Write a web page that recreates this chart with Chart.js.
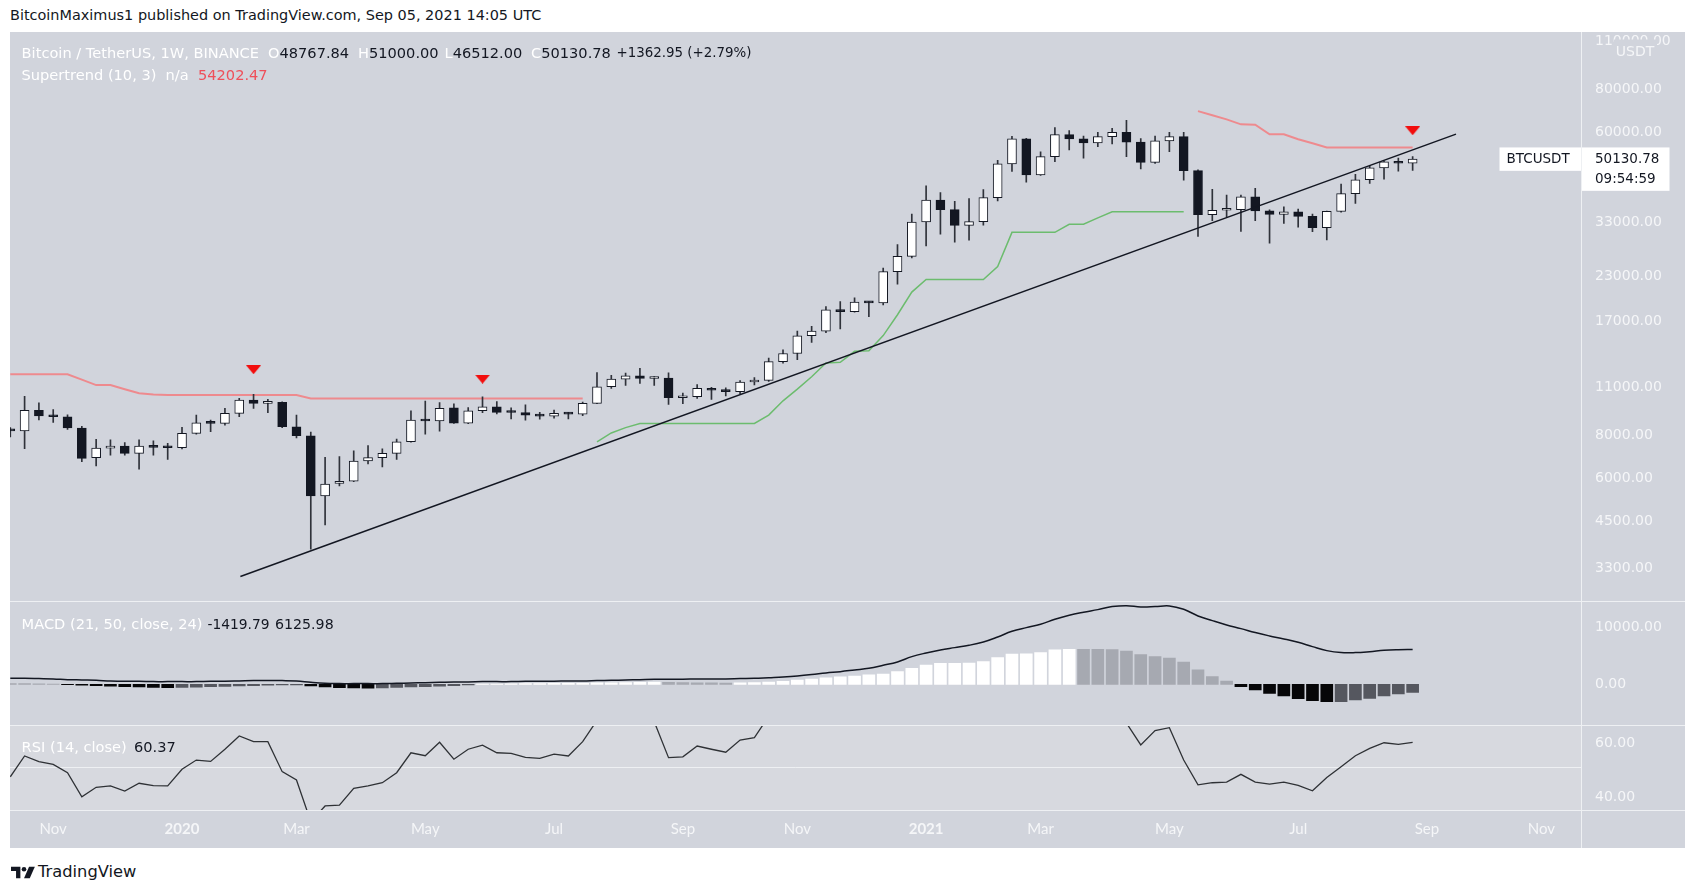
<!DOCTYPE html>
<html>
<head>
<meta charset="utf-8">
<script src="https://cdn.jsdelivr.net/npm/chart.js@4.4.0/dist/chart.umd.min.js"></script>
<style>
html,body{margin:0;padding:0;background:#ffffff;width:1696px;height:888px;overflow:hidden;font-family:"DejaVu Sans",sans-serif;}
#frame{position:absolute;left:10px;top:32px;width:1675px;height:816px;background:#d1d4dc;}
#frame canvas{position:absolute;left:0;}
.t{position:absolute;white-space:nowrap;height:20px;line-height:20px;font-size:14.6px;font-family:"DejaVu Sans",sans-serif;}
.w{color:#ffffff;}
.d{color:#131722;}
.r{color:#ef4f5a;}
.sep{position:absolute;background:#eef0f3;}
</style>
</head>
<body>
<div class="t d" style="left:10px;top:5px;font-size:14.45px;">BitcoinMaximus1 published on TradingView.com, Sep 05, 2021 14:05 UTC</div>
<div id="frame">
  <canvas id="cMain" width="1675" height="569" style="top:0px;width:1675px;height:569px;"></canvas>
  <canvas id="cMacd" width="1675" height="124" style="top:569px;width:1675px;height:124px;"></canvas>
  <canvas id="cRsi" width="1675" height="123" style="top:693px;width:1675px;height:123px;"></canvas>
</div>
<div class="sep" style="left:10px;top:601px;width:1675px;height:1px;"></div>
<div class="sep" style="left:10px;top:725px;width:1675px;height:1px;"></div>
<div class="sep" style="left:10px;top:810px;width:1675px;height:1px;"></div>
<div class="sep" style="left:1581px;top:32px;width:1px;height:816px;"></div>

<div class="t w" style="left:21.6px;top:42.5px;">Bitcoin / TetherUS, 1W, BINANCE</div>
<div class="t" style="left:268px;top:42.5px;"><span class="w">O</span><span class="d">48767.84</span></div>
<div class="t" style="left:358px;top:42.5px;"><span class="w">H</span><span class="d">51000.00</span></div>
<div class="t" style="left:444.5px;top:42.5px;"><span class="w">L</span><span class="d">46512.00</span></div>
<div class="t" style="left:531px;top:42.5px;"><span class="w">C</span><span class="d">50130.78</span></div>
<div class="t d" style="left:616.5px;top:42.5px;font-size:13.4px;">+1362.95 (+2.79%)</div>
<div class="t w" style="left:21.6px;top:65px;">Supertrend (10, 3)</div>
<div class="t w" style="left:165.5px;top:65px;">n/a</div>
<div class="t r" style="left:198px;top:65px;">54202.47</div>
<div class="t w" style="left:21.6px;top:614px;">MACD (21, 50, close, 24)</div>
<div class="t d" style="left:207.5px;top:614px;font-size:13.8px;">-1419.79</div>
<div class="t d" style="left:275px;top:614px;font-size:14.2px;">6125.98</div>
<div class="t w" style="left:21.6px;top:736.5px;">RSI (14, close)</div>
<div class="t d" style="left:134px;top:736.5px;">60.37</div>

<svg style="position:absolute;left:11px;top:866px;" width="26" height="13" viewBox="0 0 36 18">
  <path d="M0 1h13v16H7V7H0z" fill="#131722"/>
  <circle cx="18" cy="4.5" r="3.2" fill="#131722"/>
  <path d="M25 1h8l-7 16h-8z" fill="#131722"/>
</svg>
<div class="t d" style="left:38px;top:862px;font-size:16.3px;">TradingView</div>

<script>
// ---------- DATA (week index 0 = week of 2019-10-14, weekly bars) ----------
const SYMBOL = 'BTCUSDT';
const COUNTDOWN = '09:54:59';
const OPEN = [8275,8220,9430,9080,9030,8380,6880,7330,7430,7080,
  7430,7370,7350,8090,8680,8640,9240,10090,9870,9940,
  8450,7960,5330,5800,5880,6730,6880,7080,7650,8840,
  8780,9590,8650,9400,9650,9300,9290,9130,9070,9240,
  9190,9870,11030,11600,11850,11650,11680,10250,10330,10920,
  10770,10670,11380,11500,13030,13760,15480,15960,18410,18180,
  19360,19270,23720,26250,33000,38150,35830,32260,33090,38800,
  48580,57410,45140,50970,59000,57350,55800,58200,59900,56150,
  49070,56580,58240,46430,34650,35670,35800,39000,35520,34700,
  35280,34240,31780,35400,39850,43700,47300,49250,48767.84];
const HIGH = [8410,10350,9900,9480,9150,8480,7770,7740,7600,7740,
  7690,7570,8420,9140,8840,9550,10210,10490,10140,9980,
  9140,8150,6900,6930,7200,7460,7290,7780,9400,10030,
  9930,9850,9600,10320,9990,9580,9780,9300,9440,9300,
  9960,12110,11900,12080,12470,11800,12090,10580,11180,10990,
  10950,11490,11720,13350,14100,15960,16480,18800,19420,19920,
  19420,24300,28400,34780,41950,40100,37850,38530,40950,49700,
  58350,57530,52640,61840,60600,58400,59950,61500,64850,57500,
  58450,59900,59900,46650,41000,39480,39500,41300,35750,36510,
  35950,34790,35500,42460,45300,47880,49500,50500,51000];
const LOW = [7900,7300,8850,8700,8300,6700,6510,7000,7000,6370,
  7000,6800,7290,8050,8180,8540,9030,9550,9280,8400,
  7850,3740,4400,5700,5860,6600,6470,6800,7630,8040,
  8200,8640,8630,9280,9200,8900,8830,8890,8940,8900,
  9100,9850,10900,11120,11280,11120,9800,9850,10200,10140,
  10370,10530,11170,11420,12900,13200,14800,15800,16190,18110,
  17570,19000,21820,26000,28130,30420,28850,29240,32300,37990,
  46200,43000,44950,49270,53270,50430,54450,55500,51000,47000,
  48700,52650,43600,30000,33270,34160,31000,33300,28650,32710,
  31860,30930,29280,35200,37330,42670,43900,46300,46512];
const CLOSE = [8220,9430,9080,9030,8380,6850,7330,7430,7080,7430,
  7370,7350,8090,8680,8640,9240,10090,9870,9940,8450,
  7960,5330,5770,5880,6730,6880,7080,7650,8840,8780,
  9550,8650,9400,9650,9300,9290,9130,9070,9240,9190,
  9870,11030,11600,11850,11650,11680,10250,10330,10920,10770,
  10670,11380,11500,13030,13760,15480,15960,18410,18180,19360,
  19270,23720,26250,33000,38150,35830,32260,33090,38800,48580,
  57410,45140,50970,59000,57350,55800,58200,59900,56150,49070,
  56580,58240,46430,34650,35670,35800,39000,35520,34700,35280,
  34240,31780,35400,39850,43700,47300,49250,48767.84,50130.78];
// Supertrend (10,3): downtrend (red) and uptrend (green) values, null = not plotted
const ST_DOWN = [11980,11980,11980,11980,11980,11560,11150,11150,10840,10555,
  10480,10435,10435,10435,10435,10435,10435,10435,10435,10435,
  10435,10205,10205,10205,10205,10205,10205,10205,10205,10205,
  10205,10205,10205,10205,10205,10205,10205,10205,10205,10205,
  10205,null,null,null,null,null,null,null,null,null,
  null,null,null,null,null,null,null,null,null,null,
  null,null,null,null,null,null,null,null,null,null,
  null,null,null,null,null,null,null,null,null,null,
  null,null,null,69000,67100,65300,63180,63000,59140,59140,
  57200,55700,54202.47,54202.47,54202.47,54202.47,54202.47,54202.47,54202.47];
const ST_UP = [null,null,null,null,null,null,null,null,null,null,
  null,null,null,null,null,null,null,null,null,null,
  null,null,null,null,null,null,null,null,null,null,
  null,null,null,null,null,null,null,null,null,null,
  null,7647,8110,8400,8640,8640,8640,8640,8640,8640,
  8640,8640,8640,9135,10040,10850,11780,12920,12980,13960,
  14000,15500,17800,20700,22500,22500,22500,22500,22500,24520,
  30800,30800,30800,30800,32500,32500,33920,35300,35300,35300,
  35300,35300,35300,null,null,null,null,null,null,null,
  null,null,null,null,null,null,null,null,null];
const SELL_WEEKS = [17,33,98];
const SELL_PRICES = [12350,11600,60570];
const TREND_WEEKS = [16.08,101.03];
const TREND_PRICES = [3120,59200];
const MACD_LINE = [1050,1050,1000,940,820,760,700,585,530,530,
  470,470,470,470,530,530,585,645,645,645,
  585,350,175,120,120,120,120,175,234,290,
  350,410,410,470,470,470,530,530,530,585,
  585,645,700,760,820,880,880,880,940,940,
  940,1000,1050,1170,1290,1460,1700,1990,2220,2515,
  2810,3335,3920,4855,5500,6025,6435,6845,7430,8310,
  9300,9945,10530,11410,12110,12640,13100,13630,13800,13570,
  13630,13750,13160,11990,11170,10410,9770,9070,8480,7960,
  7370,6610,5910,5560,5560,5730,5970,6080,6125.98];
const MACD_HIST = [130,110,90,60,-60,-150,-250,-340,-420,-480,
  -540,-580,-560,-500,-430,-350,-270,-220,-170,-130,
  -110,-300,-480,-590,-640,-660,-620,-560,-480,-400,
  -320,-220,-110,30,60,90,110,130,150,170,
  190,240,280,320,350,370,340,300,270,240,
  210,240,290,400,540,720,920,1130,1300,1460,
  1640,1810,2220,2810,3390,3690,3700,3710,3980,4680,
  5320,5330,5560,6030,6140,6130,6120,6110,5850,5210,
  4860,4620,3920,2520,1350,585,-410,-990,-1580,-2050,
  -2520,-2870,-3040,-3030,-2750,-2460,-2050,-1700,-1419.79];
const RSI = [47.6,55.3,53.2,52.2,49.1,40.2,43.7,44.2,42.3,45.2,
  44.3,44.2,50.4,53.8,53.3,57.8,62.7,60.6,60.6,49.5,
  46.4,31.0,36.8,37.1,43.3,44.2,45.4,49.1,56.5,55.4,
  60.4,54.1,57.8,59.3,56.5,56.3,54.8,54.4,56.0,55.3,
  60.6,68.5,74,75,73,68,54.7,55.0,59.0,57.8,
  56.7,61.2,62.1,70,72,76,77,81,79,80,
  79,85,87,90,91,86,80,79,82,86,
  88,78,80,83,80,77,78,76,67.5,59.4,
  64.7,65.8,53.8,44.6,45.4,45.6,48.5,45.6,44.9,45.6,
  44.4,42.4,47.3,51.3,55.4,58.1,60.2,59.6,60.37];
const RSI_GUIDE = 51.3;
const PRICE_TICKS = [3300,4500,6000,8000,11000,17000,23000,33000,60000,80000,110000];
const MACD_TICKS = [0,10000];
const RSI_TICKS = [40,60];
const MONTH_TICK_WEEKS = [3,12,20,29,38,47,55,64,72,81,90,99,107];
const MONTH_TICK_LABELS = ['Nov','2020','Mar','May','Jul','Sep','Nov','2021','Mar','May','Jul','Sep','Nov'];

// ---------- view ----------
const X_MIN = -0.02, X_MAX = 109.8;
const AXIS_W = 103.5;
const LABEL_COLOR = '#f5f6f8';
const AXIS_FONT = 'DejaVu Sans';
Chart.defaults.font.family = 'Lato';
Chart.defaults.animation = false;
Chart.defaults.layout.autoPadding = false;

const weeks = OPEN.map((_, i) => i);
const fitY = (s) => { s.width = AXIS_W; s.paddingTop = 0; s.paddingBottom = 0; };
const yTicks = (vals) => (s) => { s.ticks = vals.map(v => ({value: v})); };
const baseOpts = () => ({
  responsive: false, maintainAspectRatio: false, animation: false,
  layout: {padding: 0, autoPadding: false},
  plugins: {legend: {display: false}, tooltip: {enabled: false}},
  events: []
});
const yAxisCommon = {
  position: 'right',
  grid: {display: false, drawTicks: false},
  border: {display: false},
  afterFit: fitY,
  ticks: {color: LABEL_COLOR, font: {size: 14, family: AXIS_FONT}, padding: 13.5, autoSkip: false,
          callback: (v) => Number(v).toFixed(2)}
};
const xHidden = {type: 'linear', min: X_MIN, max: X_MAX, display: false, offset: false,
                 grid: {offset: false}};

function triangleImage() {
  const c = document.createElement('canvas');
  c.width = 15; c.height = 9;
  const g = c.getContext('2d');
  g.fillStyle = '#f20d0d';
  g.beginPath(); g.moveTo(0, 0); g.lineTo(15, 0); g.lineTo(7.5, 9); g.closePath(); g.fill();
  return c;
}

const priceTag = {
  id: 'priceTag',
  afterDraw(chart) {
    const {ctx, chartArea: a, scales: {y}} = chart;
    const last = CLOSE.length - 1;
    const py = y.getPixelForValue(CLOSE[last]);
    ctx.save();
    ctx.fillStyle = '#ffffff';
    ctx.fillRect(a.right - 82, py - 11.7, 82, 23.4);
    ctx.fillRect(a.right, py - 11.7, 88, 43.4);
    ctx.fillStyle = '#131722';
    ctx.font = '13.5px ' + AXIS_FONT;
    ctx.textBaseline = 'middle';
    ctx.textAlign = 'left';
    ctx.fillText(SYMBOL, a.right - 75, py);
    ctx.fillText(CLOSE[last].toFixed(2), a.right + 13.5, py);
    ctx.fillText(COUNTDOWN, a.right + 13.5, py + 20);
    ctx.fillStyle = '#d1d4dc';
    ctx.fillRect(a.right + 32.5, 7.5, 43, 20.5);
    ctx.fillStyle = LABEL_COLOR;
    ctx.font = '14px ' + AXIS_FONT;
    ctx.textAlign = 'center';
    ctx.fillText('USDT', a.right + 53.5, 20);
    ctx.restore();
  }
};

const bodyColors = weeks.map(i => CLOSE[i] >= OPEN[i] ? '#ffffff' : '#131722');

new Chart(document.getElementById('cMain'), {
  type: 'bar',
  data: {
    datasets: [
      {type: 'line', label: 'Trendline', data: TREND_WEEKS.map((w, i) => ({x: w, y: TREND_PRICES[i]})),
       borderColor: '#131722', borderWidth: 1.5, pointRadius: 0, order: 0},
      {type: 'line', label: 'Sell', data: SELL_WEEKS.map((w, i) => ({x: w, y: SELL_PRICES[i]})),
       showLine: false, pointStyle: triangleImage(), pointRadius: 8, order: 0, clip: false},
      {type: 'bar', label: 'Body', data: weeks.map(i => ({x: i, y: [OPEN[i], CLOSE[i]]})),
       backgroundColor: bodyColors, borderColor: '#131722', borderWidth: 1, borderSkipped: false,
       barThickness: 9, grouped: false, minBarLength: 2, order: 1},
      {type: 'bar', label: 'Wick', data: weeks.map(i => ({x: i, y: [LOW[i], HIGH[i]]})),
       backgroundColor: '#2f323a', borderWidth: 0, barThickness: 1, grouped: false, order: 2},
      {type: 'line', label: 'Supertrend down', data: weeks.map(i => ({x: i, y: ST_DOWN[i]})),
       borderColor: '#ee8a8e', borderWidth: 2, pointRadius: 0, spanGaps: false, order: 3},
      {type: 'line', label: 'Supertrend up', data: weeks.map(i => ({x: i, y: ST_UP[i]})),
       borderColor: '#6cbc6e', borderWidth: 1.5, pointRadius: 0, spanGaps: false, order: 3}
    ]
  },
  options: Object.assign(baseOpts(), {
    scales: {
      x: xHidden,
      y: Object.assign({}, yAxisCommon, {type: 'logarithmic', min: 2651, max: 116800,
           afterBuildTicks: yTicks(PRICE_TICKS)})
    }
  }),
  plugins: [priceTag]
});

const histColors = MACD_HIST.map((v, i) => {
  const rising = i > 0 ? v > MACD_HIST[i - 1] : false;
  if (v >= 0) return rising ? '#ffffff' : '#a6a9b1';
  return rising ? '#55575f' : '#060608';
});

new Chart(document.getElementById('cMacd'), {
  type: 'bar',
  data: {
    datasets: [
      {type: 'line', label: 'MACD', data: weeks.map(i => ({x: i, y: MACD_LINE[i]})),
       borderColor: '#131722', borderWidth: 1.5, pointRadius: 0, tension: 0.4, order: 0},
      {type: 'bar', label: 'Histogram', data: weeks.map(i => ({x: i, y: MACD_HIST[i]})),
       backgroundColor: histColors, borderWidth: 0, barThickness: 12, grouped: false, order: 1}
    ]
  },
  options: Object.assign(baseOpts(), {
    scales: {
      x: xHidden,
      y: Object.assign({}, yAxisCommon, {type: 'linear', min: -7140, max: 14614,
           afterBuildTicks: yTicks(MACD_TICKS)})
    }
  })
});

const rsiBg = {
  id: 'rsiBg',
  beforeDraw(chart) {
    const {ctx, chartArea: a, scales: {y}} = chart;
    ctx.save();
    ctx.fillStyle = '#d7d9df';
    ctx.fillRect(a.left, a.top, a.right - a.left, a.bottom - a.top);
    const gy = Math.round(y.getPixelForValue(RSI_GUIDE)) + 0.5;
    ctx.strokeStyle = '#eef0f3';
    ctx.lineWidth = 1;
    ctx.beginPath(); ctx.moveTo(a.left, gy); ctx.lineTo(a.right, gy); ctx.stroke();
    ctx.restore();
  }
};

new Chart(document.getElementById('cRsi'), {
  type: 'line',
  data: {
    datasets: [
      {label: 'RSI', data: weeks.map(i => ({x: i, y: RSI[i]})),
       borderColor: '#2e3135', borderWidth: 1.3, pointRadius: 0, tension: 0}
    ]
  },
  options: Object.assign(baseOpts(), {
    scales: {
      x: {type: 'linear', min: X_MIN, max: X_MAX, position: 'bottom', offset: false,
          grid: {display: false, drawTicks: false}, border: {display: false},
          afterBuildTicks: (s) => { s.ticks = MONTH_TICK_WEEKS.map(v => ({value: v})); },
          afterFit: (s) => { s.height = 38; s.paddingLeft = 0; s.paddingRight = 0; },
          ticks: {color: LABEL_COLOR, padding: 10, autoSkip: false, maxRotation: 0,
                  callback: (v) => MONTH_TICK_LABELS[MONTH_TICK_WEEKS.indexOf(v)],
                  font: (c) => ({size: 15, family: 'Lato',
                    weight: (c.tick && /^\d{4}$/.test(String(c.tick.label))) ? 'bold' : 'normal'})}},
      y: Object.assign({}, yAxisCommon, {type: 'linear', min: 35.30, max: 66.78,
           afterBuildTicks: yTicks(RSI_TICKS)})
    }
  }),
  plugins: [rsiBg]
});
</script>
</body>
</html>
